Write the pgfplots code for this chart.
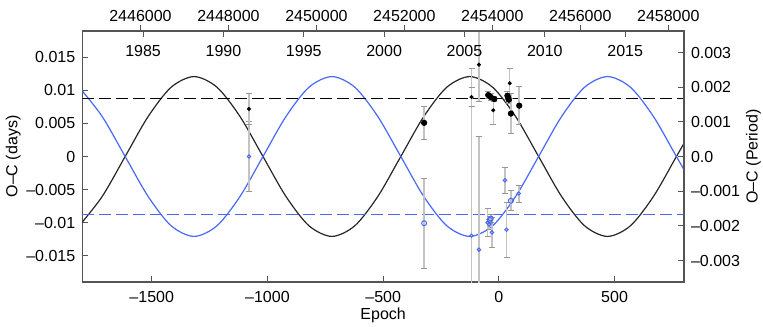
\documentclass[border=0pt]{standalone}
\usepackage{fontspec}
\setmainfont{Liberation Sans}
\usepackage{pgfplots}
\pgfplotsset{compat=1.18}

\definecolor{cblue}{RGB}{72,104,250}
\definecolor{framegray}{RGB}{85,85,85}
\definecolor{errgray}{RGB}{195,195,195}
\definecolor{capgray}{RGB}{150,150,150}

\pgfplotsset{
  base/.style={
    width=300.85pt, height=125.5pt, scale only axis,
    at={(0,0)}, anchor=south west,
    font=\fontsize{8}{9.6}\selectfont,
    axis line style={framegray, line width=0.6pt},
    major tick length=3pt,
    every tick/.style={framegray, line width=0.5pt},
    scaled ticks=false,
  },
  ebars/.style={
    error bars/.cd, y dir=both, y explicit,
    error bar style={color=errgray, line width=0.75pt},
    error mark options={rotate=90, color=capgray, line width=0.4pt, mark size=1.5pt},
  },
}

\begin{document}
\begin{tikzpicture}

% main axis: epoch vs O-C in days
\begin{axis}[base, name=main,
  xmin=-1800, xmax=800, ymin=-0.019, ymax=0.019,
  xtick={-1500,-1000,-500,0,500},
  xticklabels={–1500,–1000,–500,0,500},
  ytick={-0.015,-0.01,-0.005,0,0.005,0.01,0.015},
  yticklabels={–0.015,–0.01,–0.005,0,0.005,0.01,0.015},
  xtick pos=left, ytick pos=left, tick align=inside,
  xticklabel style={anchor=base, yshift=-10.35pt},
  xlabel={Epoch}, ylabel={O–C (days)},
  xlabel style={at={(axis description cs:0.5,-0.1486)}, anchor=base},
  ylabel style={at={(axis description cs:-0.108,0.5)}, anchor=base},
]
% model curves
\addplot[black!85, line width=0.6pt, smooth] coordinates {
(-1813.25,-0.01048) (-1714,-0.00605) (-1614.75,0) (-1515.5,0.00605)
(-1416.25,0.01048) (-1317,0.0121) (-1217.75,0.01048) (-1118.5,0.00605)
(-1019.25,0) (-920,-0.00605) (-820.75,-0.01048) (-721.5,-0.0121)
(-622.25,-0.01048) (-523,-0.00605) (-423.75,0) (-324.5,0.00605)
(-225.25,0.01048) (-126,0.0121) (-26.75,0.01048) (72.5,0.00605)
(171.75,0) (271,-0.00605) (370.25,-0.01048) (469.5,-0.0121)
(568.75,-0.01048) (668,-0.00605) (767.25,0) (866.5,0.00605)
};
\addplot[cblue, line width=0.6pt, smooth] coordinates {
(-1813.25,0.01048) (-1714,0.00605) (-1614.75,0) (-1515.5,-0.00605)
(-1416.25,-0.01048) (-1317,-0.0121) (-1217.75,-0.01048) (-1118.5,-0.00605)
(-1019.25,0) (-920,0.00605) (-820.75,0.01048) (-721.5,0.0121)
(-622.25,0.01048) (-523,0.00605) (-423.75,0) (-324.5,-0.00605)
(-225.25,-0.01048) (-126,-0.0121) (-26.75,-0.01048) (72.5,-0.00605)
(171.75,0) (271,0.00605) (370.25,0.01048) (469.5,0.0121)
(568.75,0.01048) (668,0.00605) (767.25,0) (866.5,-0.00605)
};
% dashed levels
\addplot[black, line width=0.6pt, dash pattern=on 6pt off 2.5pt] coordinates {(-1800,0.0088) (800,0.0088)};
\addplot[cblue, line width=0.6pt, dash pattern=on 6pt off 2.5pt] coordinates {(-1800,-0.0088) (800,-0.0088)};

% blue (open) points
\addplot[only marks, mark=o, mark size=0.85pt, cblue, mark options={line width=0.5pt}, ebars]
  table[x=E, y=Y, y error=D] {
E Y D
-1080 0.0 0.0053
-118 -0.0120 0.0254
-86 -0.0141 0.0171
-49 -0.0100 0.0021
-42 -0.0103 0.0008
-30 -0.0115 0.0023
26 -0.0036 0.0020
33 -0.0111 0.0042
86 -0.0056 0.0013
};
\addplot[only marks, mark=o, mark size=1.25pt, cblue, mark options={line width=0.5pt}, ebars]
  table[x=E, y=Y, y error=D] {
E Y D
-323 -0.0101 0.0068
-39 -0.0096 0.0006
-35 -0.0094 0.0006
52 -0.0067 0.0015
};

% black (filled) points
\addplot[only marks, mark=*, mark size=0.8pt, black, ebars]
  table[x=E, y=Y, y error=D] {
E Y D
-1080 0.0072 0.0024
-118 0.0090 0.0014
-86 0.0139 0.0056
-24 0.0070 0.0021
47 0.0111 0.0023
};
\addplot[only marks, mark=*, mark size=1.35pt, black, ebars]
  table[x=E, y=Y, y error=D] {
E Y D
-323 0.0051 0.0025
-46 0.0093 0.0005
-35 0.0090 0.0005
-20 0.0087 0.0004
37 0.0092 0.0006
40 0.0089 0.0006
43 0.0086 0.0006
52 0.0065 0.0030
88 0.0077 0.0029
};
\end{axis}

% right axis: O-C in units of the period
\begin{axis}[base,
  xmin=-1800, xmax=800, ymin=-0.00362, ymax=0.00362,
  axis x line=none, axis y line*=right, tick align=inside,
  ytick={-0.003,-0.002,-0.001,0,0.001,0.002,0.003},
  yticklabels={–0.003,–0.002,–0.001,0.0,0.001,0.002,0.003},
  ylabel={O–C (Period)},
  ylabel style={at={(axis description cs:1.1225,0.5)}, anchor=base},
]
\end{axis}

% top axis: Julian date (offset by 2440000)
\begin{axis}[base,
  xmin=4677, xmax=18358, ymin=0, ymax=1,
  axis y line=none, axis x line*=top, tick align=outside,
  xtick={6000,8000,10000,12000,14000,16000,18000},
  xticklabels={2446000,2448000,2450000,2452000,2454000,2456000,2458000},
  xticklabel style={anchor=base, yshift=1.6pt},
]
\end{axis}

% calendar years, ticks inside the top edge
\begin{axis}[base,
  xmin=1981.22, xmax=2018.66, ymin=0, ymax=1,
  axis y line=none, axis x line*=top, tick align=inside,
  xtick={1985,1990,1995,2000,2005,2010,2015},
  xticklabels={1985,1990,1995,2000,2005,2010,2015},
  xticklabel style={anchor=base, yshift=-12.85pt},
]
\end{axis}

\pgfresetboundingbox
\path (main.south west) ++(-41.15pt,-22pt) rectangle ++(381.5pt,163pt);
\end{tikzpicture}
\end{document}
